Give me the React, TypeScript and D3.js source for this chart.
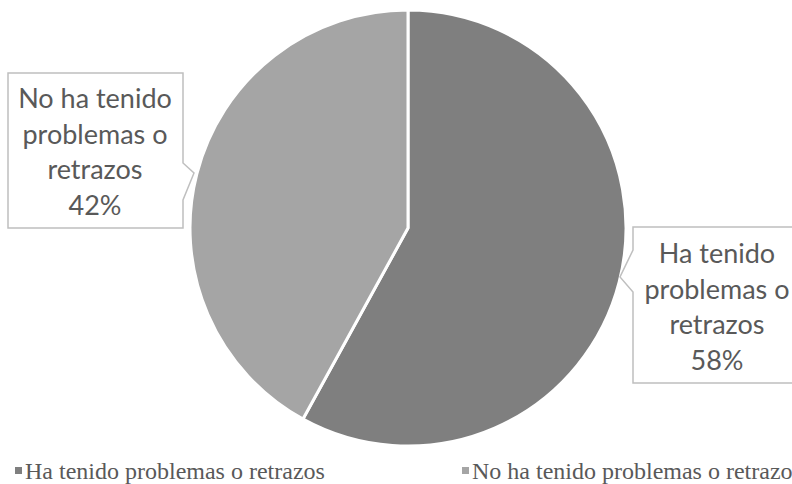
import React from "react";
import * as d3 from "d3";

const categories = ["Ha tenido problemas o retrazos", "No ha tenido problemas o retrazos"];
const values = [58, 42];
const labelLines = [
  ["Ha tenido", "problemas o", "retrazos"],
  ["No ha tenido", "problemas o", "retrazos"],
];
const colors = ["#7f7f7f", "#a5a5a5"];

const W = 792, H = 484;
const cx = 408, cy = 228, R = 218;

export default function App() {
  const total = d3.sum(values);
  const pie = d3.pie<number>().sort(null).startAngle(0).endAngle(2 * Math.PI);
  const arcs = pie(values);
  const arcGen = d3.arc<d3.PieArcDatum<number>>().innerRadius(0).outerRadius(R);

  // callout boxes (layout)
  const boxes = [
    { x0: 633, y0: 227, x1: 802, y1: 383, side: "left", p0: 250, tip: [620, 277], p1: 292, tx: 717, ty: 263 },
    { x0: 8, y0: 73, x1: 183, y1: 228, side: "right", p0: 163, tip: [194, 173], p1: 200, tx: 95, ty: 108 },
  ];
  const lh = 35.5;
  const font = "Lato, 'Open Sans', sans-serif";

  const boxPath = (b: any) => {
    if (b.side === "left") {
      return `M${b.x0},${b.y0}H${b.x1}V${b.y1}H${b.x0}V${b.p1}L${b.tip[0]},${b.tip[1]}L${b.x0},${b.p0}Z`;
    }
    return `M${b.x0},${b.y0}H${b.x1}V${b.p0}L${b.tip[0]},${b.tip[1]}L${b.x1},${b.p1}V${b.y1}H${b.x0}Z`;
  };

  return (
    <svg width={W} height={H} style={{ position: "absolute", left: 0, top: 0, background: "#fff" }}>
      <g transform={`translate(${cx},${cy})`}>
        {arcs.map((a, i) => (
          <path key={i} d={arcGen(a) || ""} fill={colors[i]} stroke="#fff" strokeWidth={3} strokeLinejoin="round" />
        ))}
      </g>
      {boxes.map((b, i) => (
        <g key={i}>
          <path d={boxPath(b)} fill="#fff" stroke="#bfbfbf" strokeWidth={1.5} />
          <text fontFamily={font} fontSize={27} fill="#595959" textAnchor="middle">
            {[...labelLines[i], `${Math.round((values[i] / total) * 100)}%`].map((l, j) => (
              <tspan key={j} x={b.tx} y={b.ty + j * lh}>{l}</tspan>
            ))}
          </text>
        </g>
      ))}
      {categories.map((c, i) => {
        const lx = i === 0 ? 15 : 462;
        return (
          <g key={c}>
            <rect x={lx} y={467} width={7} height={7} fill={colors[i]} />
            <text x={lx + 10} y={479} fontFamily="'Liberation Serif', 'Times New Roman', serif" fontSize={24} fill="#595959">{c}</text>
          </g>
        );
      })}
    </svg>
  );
}
